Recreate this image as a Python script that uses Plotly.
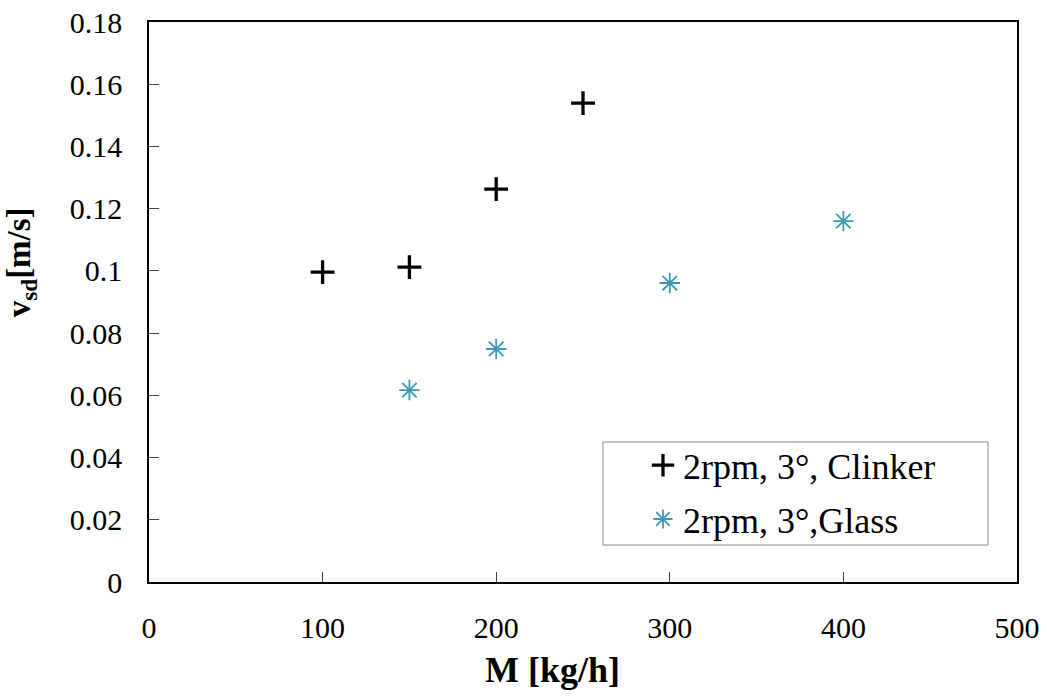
import plotly.graph_objects as go

# Mass flow rate M [kg/h] and measured velocity v_sd [m/s]
clinker_m = [100, 150, 200, 250]
clinker_v = [0.0996, 0.1012, 0.1263, 0.1539]

glass_m = [150, 200, 300, 400]
glass_v = [0.0617, 0.0749, 0.0961, 0.1160]

x_ticks = [0, 100, 200, 300, 400, 500]
y_ticks = [0, 0.02, 0.04, 0.06, 0.08, 0.1, 0.12, 0.14, 0.16, 0.18]
y_tick_text = ["0", "0.02", "0.04", "0.06", "0.08", "0.1", "0.12", "0.14", "0.16", "0.18"]

FONT = "Liberation Serif"
TEAL = "#3f9ab3"

fig = go.Figure()
fig.add_trace(go.Scatter(
    x=clinker_m, y=clinker_v, mode="markers", name="2rpm, 3°, Clinker",
    legendgroup="clinker",
    marker=dict(symbol="cross-thin-open", size=17, color="black",
                line=dict(color="black", width=3.3)),
))
fig.add_trace(go.Scatter(
    x=glass_m, y=glass_v, mode="markers", name="2rpm, 3°,Glass",
    legendgroup="glass",
    marker=dict(symbol="asterisk-open", size=17, color=TEAL,
                line=dict(color=TEAL, width=1.8)),
))

# legend frame
fig.add_shape(type="rect", xref="paper", yref="paper",
              x0=0.523, x1=0.9666, y0=0.066, y1=0.25,
              line=dict(color="#8a8a8a", width=1), fillcolor="white", layer="above")

# axis titles
fig.add_annotation(text="<b>M [kg/h]</b>", xref="paper", yref="paper",
                   x=0.4654, y=-0.158, xanchor="center", yanchor="middle",
                   showarrow=False, font=dict(family=FONT, size=36, color="black"))
fig.add_annotation(text="<b>v<sub>sd</sub>[m/s]</b>", xref="paper", yref="paper",
                   x=-0.1475, y=0.571, xanchor="center", yanchor="middle", textangle=-90,
                   showarrow=False, font=dict(family=FONT, size=33, color="black"))

fig.update_layout(
    width=1047, height=697,
    margin=dict(l=149, r=30, t=22, b=115, autoexpand=False),
    paper_bgcolor="white", plot_bgcolor="white",
    font=dict(family=FONT, size=30, color="black"),
    showlegend=True,
    legend=dict(
        x=0.5691, y=0.262, xanchor="left", yanchor="top",
        bgcolor="rgba(0,0,0,0)", borderwidth=0,
        font=dict(family=FONT, size=36, color="black"),
        itemsizing="trace", traceorder="grouped", tracegroupgap=4,
    ),
    xaxis=dict(
        range=[0, 500], tickvals=x_ticks, ticks="inside", ticklen=10,
        tickcolor="#444", tickwidth=1, automargin=False,
        showline=True, linecolor="black", linewidth=1.5, mirror=True,
        showgrid=False, zeroline=False,
        ticklabelstandoff=18,
        tickfont=dict(family=FONT, size=30),
    ),
    yaxis=dict(
        range=[0, 0.18], tickvals=y_ticks, ticktext=y_tick_text,
        ticks="inside", ticklen=10, tickcolor="#444", tickwidth=1, automargin=False,
        showline=True, linecolor="black", linewidth=1.5, mirror=True,
        showgrid=False, zeroline=False,
        ticklabelstandoff=19,
        tickfont=dict(family=FONT, size=30),
    ),
)

fig.write_html("out.html")
